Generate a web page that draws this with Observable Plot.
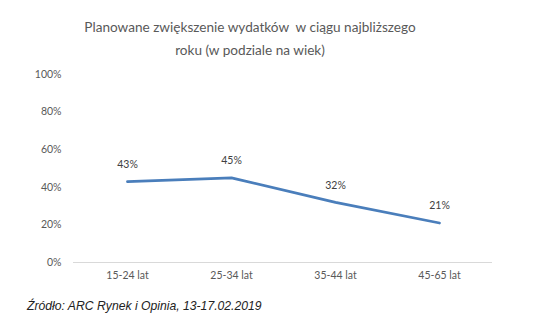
<!DOCTYPE html>
<html><head><meta charset="utf-8">
<script src="https://cdn.jsdelivr.net/npm/d3@7"></script>
<script src="https://cdn.jsdelivr.net/npm/@observablehq/plot@0.6"></script>
<style>
body{margin:0;background:#fff;width:556px;height:328px;position:relative;overflow:hidden;}
#title{position:absolute;left:0;width:500px;top:16px;text-align:center;font-family:Lato,sans-serif;font-size:13.6px;line-height:23px;color:#595959;}
#chart{position:absolute;left:0;top:62px;}
#caption{position:absolute;left:27px;top:299px;font-family:"Liberation Sans",Arial,sans-serif;font-style:italic;font-size:12.2px;color:#222;}
</style></head>
<body>
<div id="title">Planowane zwiększenie wydatków&nbsp; w ciągu najbliższego<br>roku (w podziale na wiek)</div>
<div id="chart"></div>
<div id="caption">Źródło: ARC Rynek i Opinia, 13-17.02.2019</div>
<script>
const categories = ["15-24 lat", "25-34 lat", "35-44 lat", "45-65 lat"];
const values = [0.43, 0.45, 0.32, 0.21];
const yTicks = [0, 0.2, 0.4, 0.6, 0.8, 1.0];

const data = categories.map((c, i) => ({cat: c, v: values[i]}));

const chart = Plot.plot({
  width: 556,
  height: 230,
  marginLeft: 73,
  marginRight: 64,
  marginTop: 12,
  marginBottom: 30,
  style: {fontFamily: "Lato, sans-serif", fontSize: "10.5px", color: "#595959", background: "white"},
  x: {type: "point", domain: categories, padding: 0.5, label: null, tickSize: 0, tickPadding: 9},
  y: {domain: [0, 1], ticks: yTicks, tickFormat: d => Math.round(d * 100) + "%", label: null, tickSize: 0, tickPadding: 12},
  marks: [
    Plot.ruleY([0], {stroke: "#d9d9d9", strokeWidth: 1}),
    Plot.line(data, {x: "cat", y: "v", stroke: "#4a7ebb", strokeWidth: 2.75}),
    Plot.text(data, {x: "cat", y: "v", text: d => Math.round(d.v * 100) + "%", dy: -17, fill: "#404040", fontSize: 10.5})
  ]
});
document.getElementById("chart").appendChild(chart);
</script>
</body></html>
